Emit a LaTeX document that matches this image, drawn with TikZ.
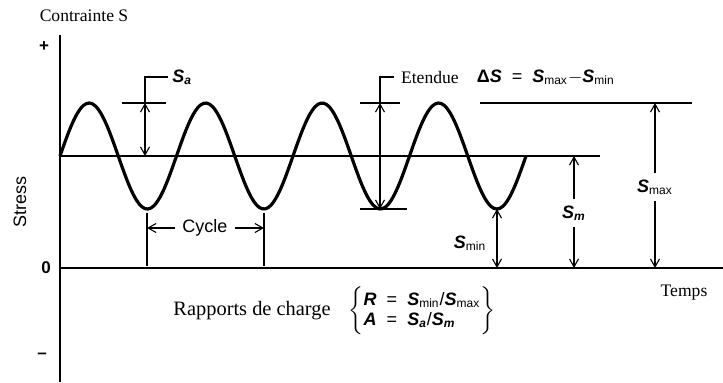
\documentclass[tikz,border=0pt]{standalone}
\usepackage{fontspec}
\setmainfont{Liberation Serif}
\setsansfont{Liberation Sans}
\usetikzlibrary{arrows.meta, positioning, calc}
\newcommand{\Sv}[1]{\textbf{\textit{S}}\textsubscript{#1}}
\tikzset{
    axis/.style = {line width=1pt},
    level/.style = {line width=0.7pt},
    wave/.style = {line width=1.6pt, line join=round},
    dimline/.style = {line width=0.55pt, >={Straight Barb[length=4pt, width=4.5pt]}},
    serifnote/.style = {font=\fontsize{8.8}{10}\selectfont\rmfamily},
    sansnote/.style = {font=\fontsize{9}{10}\selectfont\sffamily},
    signnote/.style = {font=\fontsize{8.5}{10}\selectfont\sffamily\bfseries}
}

\begin{document}
\begin{tikzpicture}[x=0.5pt, y=-0.5pt]
\useasboundingbox (0,0) rectangle (723,382);

% --- AXES ---
\coordinate (origin) at (60,268);
\coordinate (ytop) at (60,35);
\coordinate (ybot) at (60,382);
\coordinate (xend) at (723,268);
\draw [axis] (ytop) -- (ybot);
\draw [axis] (origin) -- (xend);
\node (ylab) [serifnote] at (84,16) {Contrainte S};
\node (xlab) [serifnote] at (684,293) {Temps};
\node (stress) [sansnote, rotate=90] at (20,202) {Stress};
\node (plus) [signnote] at (44,47) {+};
\node (zero) [signnote] at (46,268) {0};
\node (minus) [signnote] at (42,356) {--};

% --- LEVELS & SIGNAL ---
\coordinate (meanL) at (60,156);
\coordinate (meanR) at (600,156);
\coordinate (maxL) at (480,103);
\coordinate (maxR) at (692,103);
\draw [level] (meanL) -- (meanR);
\draw [level] (maxL) -- (maxR);
\draw [wave] plot[domain=60:526, samples=160, smooth] (\x, {156-53*sin((\x-60)/116.5*360)});

% --- AMPLITUDE S_a ---
\coordinate (satop) at (145,103);
\coordinate (sabot) at (145,156);
\coordinate (sabend) at (145,77);
\coordinate (saend) at (168,77);
\draw [level] (122,103) -- (166,103);
\draw [dimline, <->] (satop) -- (sabot);
\draw [dimline] (satop) -- (sabend) -- (saend);
\node (sa) [sansnote, anchor=west, inner sep=2pt] at (saend) {\Sv{\textbf{\textit{a}}}};

% --- RANGE (Etendue) ---
\coordinate (dstop) at (380,103);
\coordinate (dsbot) at (380,209);
\coordinate (dsend) at (394,77);
\draw [level] (360,103) -- (400,103);
\draw [level] (360,209) -- (407,209);
\draw [dimline, <->] (dstop) -- (dsbot);
\draw [dimline] (dstop) |- (dsend);
\node (etendue) [serifnote, anchor=west] at (dsend) {Etendue};
\node (delta) [sansnote, right=2pt of etendue] {\textbf{Δ\textit{S}} \ = \ \Sv{max}$-$\Sv{min}};

% --- S_max, S_m, S_min ---
\node (smax) [sansnote] at (655,187) {\Sv{max}};
\draw [dimline, ->] (smax) -- (655,103);
\draw [dimline, ->] (smax) -- (655,268);

\node (sm) [sansnote] at (574,213) {\Sv{\textbf{\textit{m}}}};
\draw [dimline, ->] (sm) -- (574,156);
\draw [dimline, ->] (sm) -- (574,268);

\coordinate (smintop) at (497,209);
\coordinate (sminbot) at (497,268);
\draw [dimline, <->] (smintop) -- (sminbot);
\node (smin) [sansnote] at (470,243) {\Sv{min}};

% --- CYCLE ---
\draw [level] (147,213) -- (147,266);
\draw [level] (264,213) -- (264,266);
\node (cycle) [sansnote] at (205,228) {Cycle};
\draw [dimline, ->] (cycle) -- (147,228);
\draw [dimline, ->] (cycle) -- (264,228);

% --- LOAD RATIOS ---
\node (ratios) [sansnote] at (422,311) {$\left\{\begin{tabular}{@{}l@{}}
    \textbf{\textit{R}} \ = \ \Sv{min}/\Sv{max}\\
    \textbf{\textit{A}} \ = \ \Sv{\textbf{\textit{a}}}/\Sv{\textbf{\textit{m}}}
    \end{tabular}\right\}$};
\node (rapports) [font=\fontsize{10.2}{12}\selectfont\rmfamily, left=2pt of ratios] {Rapports de charge};

\end{tikzpicture}
\end{document}
